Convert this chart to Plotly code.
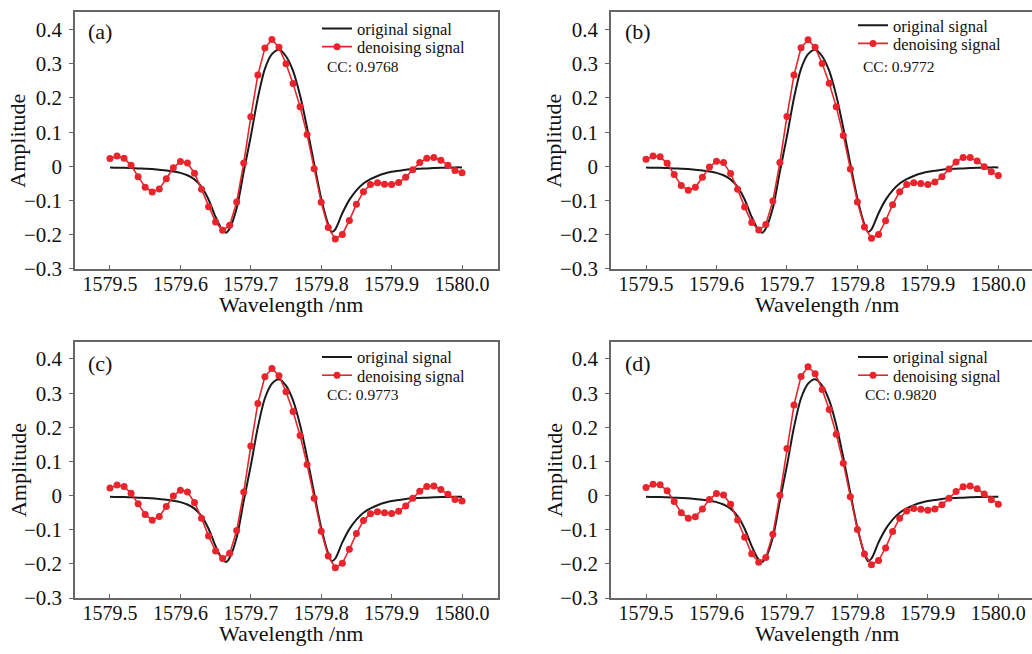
import plotly.graph_objects as go

# sample grid of the denoised signal (nm)
wavelength = [
    1579.50, 1579.51, 1579.52, 1579.53, 1579.54, 1579.55, 1579.56, 1579.57, 1579.58, 1579.59,
    1579.60, 1579.61, 1579.62, 1579.63, 1579.64, 1579.65, 1579.66, 1579.67, 1579.68, 1579.69,
    1579.70, 1579.71, 1579.72, 1579.73, 1579.74, 1579.75, 1579.76, 1579.77, 1579.78, 1579.79,
    1579.80, 1579.81, 1579.82, 1579.83, 1579.84, 1579.85, 1579.86, 1579.87, 1579.88, 1579.89,
    1579.90, 1579.91, 1579.92, 1579.93, 1579.94, 1579.95, 1579.96, 1579.97, 1579.98, 1579.99,
    1580.00,
]

# original (noise-free) signal, same in all four panels
orig_wavelength = [
    1579.50, 1579.51, 1579.52, 1579.53, 1579.54, 1579.55, 1579.56, 1579.57, 1579.58, 1579.59,
    1579.60, 1579.61, 1579.62, 1579.63, 1579.64, 1579.65, 1579.66, 1579.665, 1579.67, 1579.68,
    1579.69, 1579.70, 1579.71, 1579.72, 1579.73, 1579.74, 1579.75, 1579.76, 1579.77, 1579.78,
    1579.79, 1579.80, 1579.81, 1579.815, 1579.82, 1579.83, 1579.84, 1579.85, 1579.86, 1579.87,
    1579.88, 1579.89, 1579.90, 1579.91, 1579.92, 1579.93, 1579.94, 1579.95, 1579.96, 1579.97,
    1579.98, 1579.99, 1580.00,
]
orig_amplitude = [
    -0.003, -0.004, -0.004, -0.005, -0.006, -0.007, -0.008, -0.010, -0.012, -0.015,
    -0.019, -0.026, -0.038, -0.060, -0.097, -0.148, -0.188, -0.194, -0.182, -0.122,
    -0.015, 0.088, 0.200, 0.285, 0.328, 0.341, 0.322, 0.279, 0.207, 0.112,
    0.007, -0.094, -0.170, -0.192, -0.184, -0.137, -0.098, -0.070, -0.050, -0.037,
    -0.028, -0.021, -0.016, -0.013, -0.010, -0.008, -0.007, -0.006, -0.005, -0.004,
    -0.004, -0.003, -0.003,
]

denoise_a = [
    0.023, 0.030, 0.024, 0.003, -0.030, -0.061, -0.075, -0.066, -0.036, -0.004,
    0.014, 0.010, -0.020, -0.067, -0.118, -0.163, -0.187, -0.172, -0.104, 0.010,
    0.145, 0.267, 0.346, 0.371, 0.348, 0.300, 0.242, 0.174, 0.093, -0.007,
    -0.105, -0.179, -0.212, -0.199, -0.158, -0.111, -0.074, -0.053, -0.048, -0.052,
    -0.053, -0.047, -0.032, -0.010, 0.011, 0.024, 0.026, 0.018, 0.003, -0.012,
    -0.019,
]
denoise_b = [
    0.021, 0.030, 0.028, 0.009, -0.024, -0.056, -0.070, -0.061, -0.032, -0.002,
    0.015, 0.011, -0.021, -0.067, -0.119, -0.164, -0.186, -0.170, -0.101, 0.011,
    0.146, 0.267, 0.347, 0.370, 0.348, 0.301, 0.243, 0.174, 0.090, -0.008,
    -0.104, -0.177, -0.210, -0.199, -0.159, -0.112, -0.074, -0.053, -0.048, -0.050,
    -0.053, -0.046, -0.030, -0.008, 0.013, 0.026, 0.026, 0.016, -0.001, -0.016,
    -0.027,
]
denoise_c = [
    0.022, 0.031, 0.027, 0.007, -0.024, -0.055, -0.072, -0.061, -0.032, -0.001,
    0.016, 0.011, -0.020, -0.066, -0.118, -0.162, -0.184, -0.169, -0.102, 0.011,
    0.145, 0.270, 0.348, 0.372, 0.351, 0.304, 0.246, 0.176, 0.091, -0.008,
    -0.104, -0.177, -0.211, -0.198, -0.157, -0.111, -0.073, -0.053, -0.047, -0.050,
    -0.052, -0.046, -0.030, -0.008, 0.013, 0.027, 0.028, 0.018, 0.004, -0.011,
    -0.016,
]
denoise_d = [
    0.024, 0.033, 0.032, 0.014, -0.017, -0.050, -0.066, -0.062, -0.039, -0.011,
    0.006, 0.002, -0.025, -0.071, -0.122, -0.170, -0.195, -0.181, -0.113, 0.001,
    0.138, 0.265, 0.349, 0.377, 0.357, 0.311, 0.252, 0.180, 0.095, -0.003,
    -0.099, -0.171, -0.202, -0.190, -0.153, -0.105, -0.066, -0.045, -0.038, -0.040,
    -0.043, -0.039, -0.027, -0.008, 0.012, 0.026, 0.028, 0.020, 0.005, -0.012,
    -0.025,
]

panel_labels = ["(a)", "(b)", "(c)", "(d)"]
cc_values = ["0.9768", "0.9772", "0.9773", "0.9820"]
x_ticks = [1579.5, 1579.6, 1579.7, 1579.8, 1579.9, 1580.0]
y_ticks = [-0.3, -0.2, -0.1, 0, 0.1, 0.2, 0.3, 0.4]

W, H = 1032, 654
FONT = "Liberation Serif"
RED = "#e8242c"
BLACK = "#1a1a1a"
AXIS = "#666666"
TXT = "#111111"


def px_x(p):
    return p / W


def px_y(p):
    return 1 - p / H


# pixel boxes of the four panels: left, right, top, bottom
boxes = [(75, 497.7, 12.7, 274), (611, 1032, 12.7, 274),
         (75, 497.7, 348.3, 609.3), (611, 1032, 348.3, 609.3)]
x_ranges = [[1579.4503, 1580.0507], [1579.4503, 1580.0478],
            [1579.4503, 1580.0507], [1579.4503, 1580.0478]]
# legend rows (left, centre y of first row), CC text and panel label in pixels
legend_pos = [(317, 29.3), (853, 26), (317, 364), (853, 364)]
row_gap = 18.5
cc_pos = [(325, 67.7), (861, 67.7), (325, 401.7), (863, 401.7)]
label_pos = [(86, 32), (623, 32), (86, 370), (623, 370)]

series = [denoise_a, denoise_b, denoise_c, denoise_d]

fig = go.Figure()
annotations = []
for i in range(4):
    sfx = "" if i == 0 else str(i + 1)
    leg_o = "legend" + ("" if i == 0 else str(2 * i + 1))
    leg_d = "legend" + str(2 * i + 2)
    fig.add_trace(go.Scatter(
        x=orig_wavelength, y=orig_amplitude, mode="lines", name="original signal",
        line=dict(color=BLACK, width=2, shape="spline", smoothing=0.8),
        xaxis="x" + sfx, yaxis="y" + sfx, legend=leg_o))
    fig.add_trace(go.Scatter(
        x=wavelength, y=series[i], mode="lines+markers", name="denoising signal",
        line=dict(color=RED, width=1.6), marker=dict(color=RED, size=7),
        xaxis="x" + sfx, yaxis="y" + sfx, legend=leg_d))

    l, r, t, b = boxes[i]
    lx, ly = legend_pos[i]
    right_panel = i % 2 == 1  # right border falls outside the image there
    legend_style = dict(
        xanchor="left", yanchor="middle", bgcolor="rgba(0,0,0,0)",
        font=dict(family=FONT, size=16.5, color=TXT), itemwidth=30)
    fig.update_layout({
        "xaxis" + sfx: dict(
            domain=[px_x(l), px_x(r)], range=x_ranges[i], anchor="y" + sfx,
            tickvals=x_ticks, tickformat=".1f", ticks="inside", ticklen=4,
            tickcolor=AXIS, showline=True, linecolor=AXIS, linewidth=1.5,
            mirror=True, showgrid=False, zeroline=False, ticklabelstandoff=-4,
            tickfont=dict(family=FONT, size=20, color=TXT)),
        "yaxis" + sfx: dict(
            domain=[px_y(b), px_y(t)], range=[-0.3, 0.45], anchor="x" + sfx,
            tickvals=y_ticks, ticks="outside", ticklen=4, tickcolor=AXIS,
            showline=True, linecolor=AXIS, linewidth=1.5,
            mirror=not right_panel,
            showgrid=False, zeroline=False, ticklabelstandoff=3,
            tickfont=dict(family=FONT, size=21, color=TXT)),
        leg_o: dict(x=px_x(lx), y=px_y(ly), **legend_style),
        leg_d: dict(x=px_x(lx), y=px_y(ly + row_gap), **legend_style),
    })

    annotations.append(dict(
        text="CC: " + cc_values[i], x=px_x(cc_pos[i][0]), y=px_y(cc_pos[i][1]),
        xref="paper", yref="paper", xanchor="left", yanchor="middle",
        showarrow=False, font=dict(family=FONT, size=15.5, color=TXT)))
    annotations.append(dict(
        text=panel_labels[i], x=px_x(label_pos[i][0]), y=px_y(label_pos[i][1]),
        xref="paper", yref="paper", xanchor="left", yanchor="middle",
        showarrow=False, font=dict(family=FONT, size=22, color=TXT)))
    # axis titles
    annotations.append(dict(
        text="Amplitude", x=px_x(l - 57), y=px_y((t + b) / 2),
        xref="paper", yref="paper", xanchor="center", yanchor="middle",
        textangle=-90, showarrow=False,
        font=dict(family=FONT, size=22, color=TXT)))
    annotations.append(dict(
        text="Wavelength /nm", x=px_x(l + 215.7), y=px_y(b + 36),
        xref="paper", yref="paper", xanchor="center", yanchor="middle",
        showarrow=False, font=dict(family=FONT, size=22, color=TXT)))

# size comes from the div (autosize), so no layout width/height here
fig.update_layout(
    margin=dict(l=0, r=0, t=0, b=0),
    paper_bgcolor="white", plot_bgcolor="white", showlegend=True,
    annotations=annotations,
)

# pin the graph div to the page corner so the body margin adds no extra page size
fig.write_html("out.html", default_width=f"{W}px;position:absolute;left:0;top:0",
               default_height=f"{H}px", config={"displayModeBar": False})
